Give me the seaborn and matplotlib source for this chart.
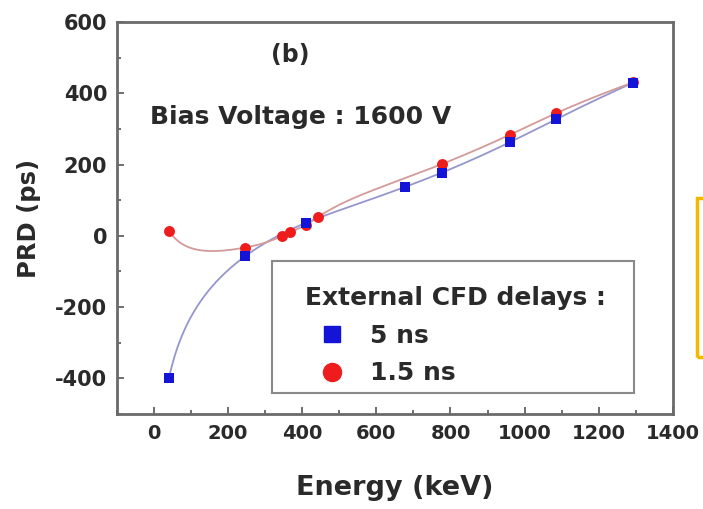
import numpy as np
import pandas as pd
import matplotlib
matplotlib.use("Agg")
import matplotlib.pyplot as plt
from matplotlib.lines import Line2D
from matplotlib.patches import Rectangle
from matplotlib.ticker import MultipleLocator
import seaborn as sns

# values
energy_5ns = [40, 245, 409, 677, 776, 961, 1085, 1294]
prd_5ns = [-400, -58, 36, 137, 177, 263, 327, 430]

energy_15ns = [40, 245, 346, 368, 411, 443, 776, 961, 1085, 1294]
prd_15ns = [14, -33, 0, 11, 31, 53, 201, 284, 344, 431]

x_ticks = [0, 200, 400, 600, 800, 1000, 1200, 1400]
y_ticks = [-400, -200, 0, 200, 400, 600]


def spline_line(x, y, n=500):
    # natural cubic spline through the points, taken in log(E) so the
    # low-energy end bends like the original's connecting line
    u = np.log(np.asarray(x, float))
    y = np.asarray(y, float)
    k = len(u)
    h = np.diff(u)
    A = np.zeros((k, k))
    b = np.zeros(k)
    A[0, 0] = A[-1, -1] = 1
    for i in range(1, k - 1):
        A[i, i - 1] = h[i - 1]
        A[i, i] = 2 * (h[i - 1] + h[i])
        A[i, i + 1] = h[i]
        b[i] = 6 * ((y[i + 1] - y[i]) / h[i] - (y[i] - y[i - 1]) / h[i - 1])
    m = np.linalg.solve(A, b)
    us = np.linspace(u[0], u[-1], n)
    j = np.clip(np.searchsorted(u, us) - 1, 0, k - 2)
    t = us - u[j]
    r = u[j + 1] - us
    hj = h[j]
    ys = (m[j] * r ** 3 / (6 * hj) + m[j + 1] * t ** 3 / (6 * hj)
          + (y[j] / hj - m[j] * hj / 6) * r
          + (y[j + 1] / hj - m[j + 1] * hj / 6) * t)
    return np.exp(us), ys


sns.set_style("ticks")
plt.rcParams['font.family'] = ['DejaVu Sans']
plt.rcParams['font.weight'] = 'bold'
plt.rcParams['axes.unicode_minus'] = False

fig = plt.figure(figsize=(7.03, 5.09), dpi=100)
ax = fig.add_axes([0.1664, 0.1866, 0.7906, 0.7702])

blue = "#1414d8"
red = "#ee1c1c"
ink = "#2a2a2a"

xs, ys = spline_line(energy_5ns, prd_5ns)
sns.lineplot(x=xs, y=ys, ax=ax, color="#9696cf", lw=1.3, sort=False)
xs, ys = spline_line(energy_15ns, prd_15ns)
sns.lineplot(x=xs, y=ys, ax=ax, color="#d39a9a", lw=1.3, sort=False)

df_red = pd.DataFrame({"E": energy_15ns, "PRD": prd_15ns})
df_blue = pd.DataFrame({"E": energy_5ns, "PRD": prd_5ns})
sns.scatterplot(data=df_red, x="E", y="PRD", ax=ax, color=red, marker="o",
                s=62, linewidth=0, zorder=3)
sns.scatterplot(data=df_blue, x="E", y="PRD", ax=ax, color=blue, marker="s",
                s=42, linewidth=0, zorder=4)

ax.set_xlim(-100, 1400)
ax.set_ylim(-500, 600)
ax.set_xticks(x_ticks)
ax.set_yticks(y_ticks)
ax.xaxis.set_minor_locator(MultipleLocator(100))
ax.yaxis.set_minor_locator(MultipleLocator(100))
ax.tick_params(which="both", direction="in", color="#555555", width=1.2,
               labelcolor=ink)
ax.tick_params(axis="x", which="major", length=5, pad=7, labelsize=14)
ax.tick_params(axis="y", which="major", length=5, pad=7, labelsize=15)
ax.tick_params(which="minor", length=3)
for s in ax.spines.values():
    s.set_color("#6a6a6a")
    s.set_linewidth(2)

ax.set_xlabel("Energy (keV)", fontsize=19.5, fontweight="bold", color=ink, labelpad=23)
ax.set_ylabel("PRD (ps)", fontsize=17.5, fontweight="bold", color=ink, labelpad=10)

ax.text(0.311, 0.916, "(b)", transform=ax.transAxes, fontsize=17, fontweight="bold",
        color=ink, ha="center", va="center")
ax.text(0.0594, 0.758, "Bias Voltage : 1600 V", transform=ax.transAxes, fontsize=18,
        fontweight="bold", color=ink, ha="left", va="center")

# legend: frame drawn separately so the inner spacing matches the original
ax.add_patch(Rectangle((0.2788, 0.0536), 0.651, 0.337, transform=ax.transAxes,
                       facecolor="white", edgecolor="#8a8a8a", lw=1.5, zorder=5))
handles = [
    Line2D([], [], ls="none", marker="s", markersize=11, color=blue),
    Line2D([], [], ls="none", marker="o", markersize=13, color=red),
]
leg = ax.legend(handles, ["5 ns", "1.5 ns"], title="External CFD delays :",
                loc="upper left", bbox_to_anchor=(0.338, 0.327), frameon=False,
                fontsize=18, title_fontproperties={"size": 18, "weight": "bold"},
                handlelength=2.2, handletextpad=0.4, borderaxespad=0,
                borderpad=0, labelspacing=0.55)
leg._legend_box.align = "left"
leg.set_zorder(6)
for t in leg.get_texts():
    t.set_color(ink)
leg.get_title().set_color(ink)

# orange box fragment on the right edge of the picture
fig.patches.append(Rectangle((697 / 703, 1 - 357 / 509), 0.02, 159 / 509,
                             transform=fig.transFigure, fill=False,
                             edgecolor="#f5b800", lw=2.5))

fig.savefig("out.png", dpi=100)
